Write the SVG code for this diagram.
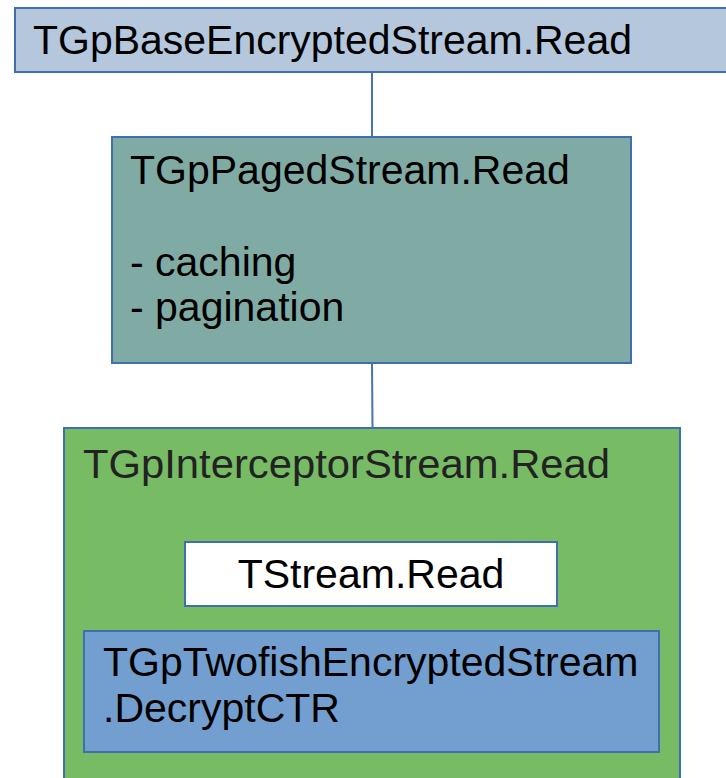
<svg xmlns="http://www.w3.org/2000/svg" width="726" height="778" viewBox="0 0 726 778">
<style>
text{font-family:"Liberation Sans",Arial,sans-serif;font-size:41px;fill:#000}
.box{stroke:#3f6fae;stroke-width:2}
.conn{stroke:#4a72b0;stroke-width:2;fill:none}
</style>
<rect width="726" height="778" fill="#fff"/>
<g id="connectors">
<line class="conn" x1="372" y1="72" x2="372" y2="137"/>
<line class="conn" x1="372" y1="363" x2="372.5" y2="428"/>
</g>
<g id="base">
<rect class="box" x="15" y="8" width="720" height="64" fill="#b4c7dc"/>
<text x="33" y="54" textLength="599" lengthAdjust="spacingAndGlyphs">TGpBaseEncryptedStream.Read</text>
</g>
<g id="paged">
<rect class="box" x="112" y="137" width="519" height="226" fill="#80aba5"/>
<text x="130" y="184">TGpPagedStream.Read</text>
<text x="130" y="276">- caching</text>
<text x="130" y="321">- pagination</text>
</g>
<g id="interceptor">
<rect class="box" x="64" y="428" width="616" height="360" fill="#77bc65"/>
<text x="83" y="478" style="fill:#222" textLength="527" lengthAdjust="spacingAndGlyphs">TGpInterceptorStream.Read</text>
</g>
<g id="tstream">
<rect class="box" x="185" y="542" width="372" height="64" fill="#fff"/>
<text x="371" y="588" text-anchor="middle">TStream.Read</text>
</g>
<g id="twofish">
<rect class="box" x="84" y="631" width="575" height="121" fill="#729fcf"/>
<text x="103" y="676">TGpTwofishEncryptedStream</text>
<text x="103" y="722">.DecryptCTR</text>
</g>
</svg>
